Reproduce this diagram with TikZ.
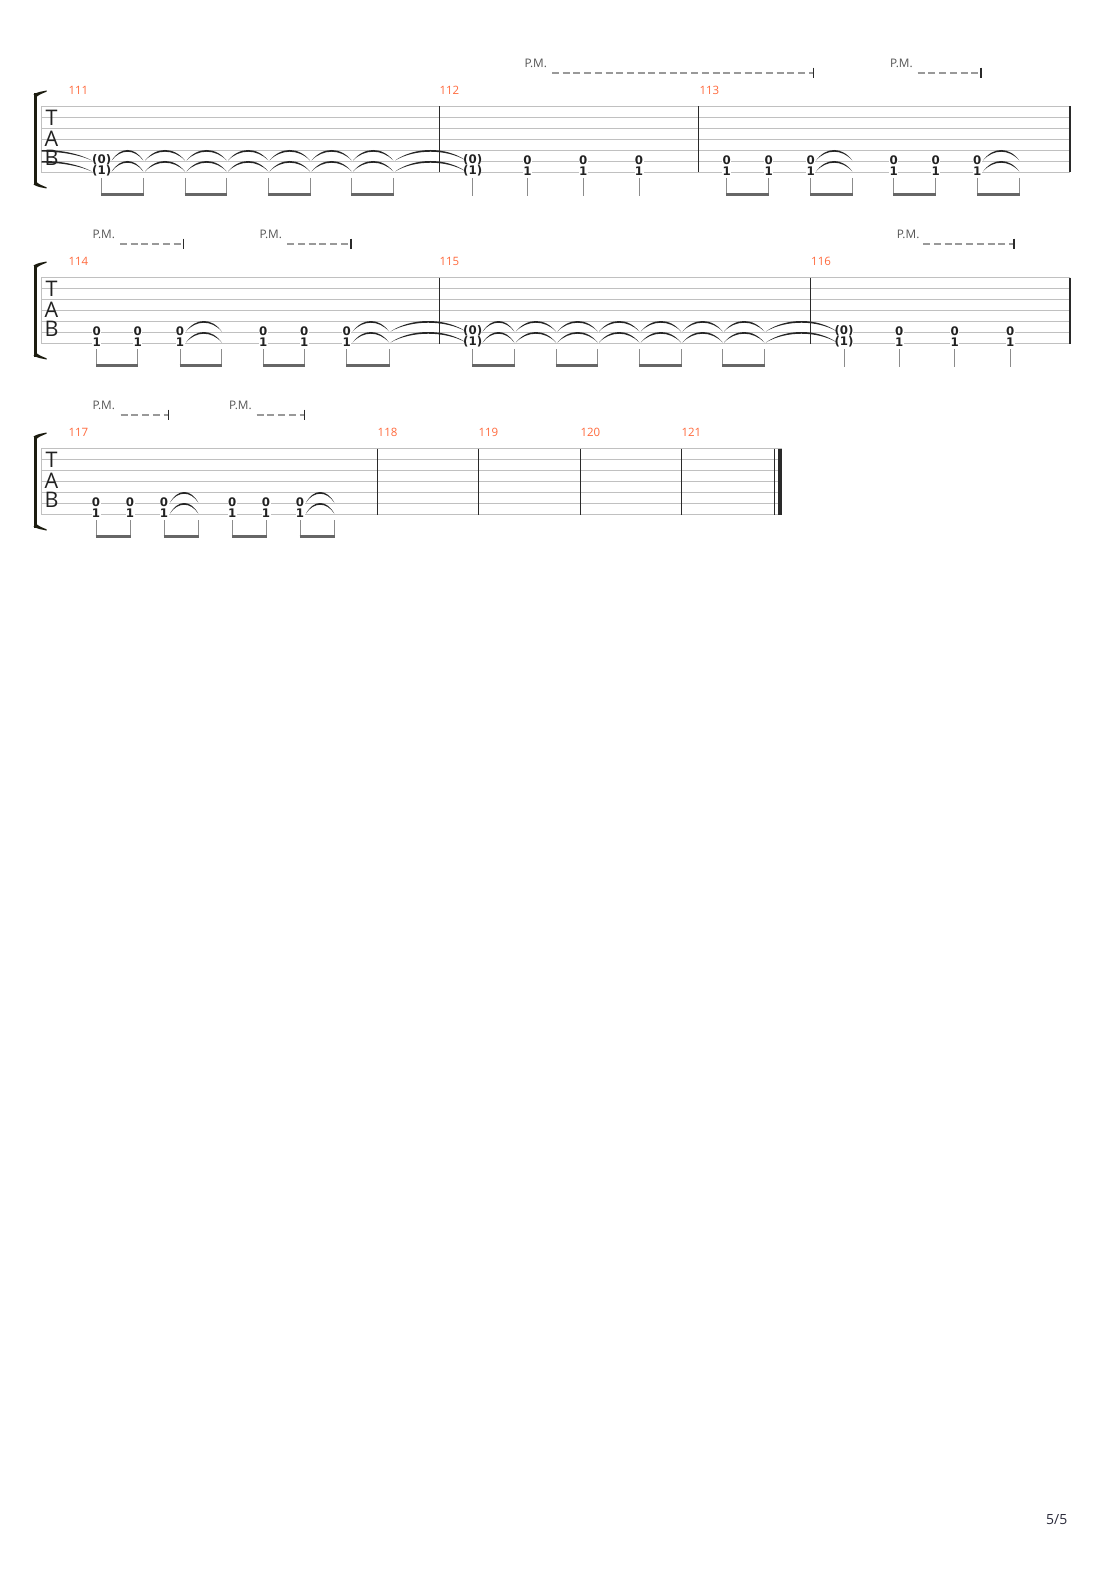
\documentclass[tikz,border=0pt]{standalone}
\usepackage{fontspec}
\setmainfont{Open Sans}
\newfontfamily\fretfont{DejaVu Sans}
\definecolor{staffgray}{HTML}{C0C0C0}
\definecolor{barcol}{HTML}{2A2A2A}
\definecolor{mnum}{HTML}{FF6A3D}
\definecolor{pmtxt}{HTML}{555555}
\definecolor{pmdashcol}{HTML}{999999}
\definecolor{stemcol}{HTML}{8C8C8C}
\definecolor{beamcol}{HTML}{666666}
\definecolor{tiecol}{HTML}{262626}
\definecolor{fretcol}{HTML}{222222}
\definecolor{brackcol}{HTML}{1C1C10}
\definecolor{pagecol}{HTML}{2B2B3B}
\tikzset{
 staffline/.style={draw=staffgray, line width=0.9pt},
 barline/.style={draw=barcol, line width=1.1pt},
 mnumber/.style={text=mnum, font=\fontsize{11.5}{11.5}\selectfont, inner sep=0pt, anchor=west},
 pmtext/.style={text=pmtxt, font=\fontsize{11.8}{11.8}\selectfont, inner sep=0pt, anchor=west},
 pmline/.style={draw=pmdashcol, line width=2pt, dash pattern=on 7pt off 3.7pt},
 pmtick/.style={draw=barcol, line width=1.1pt},
 fret/.style={text=fretcol, font=\fretfont\bfseries\fontsize{11.8}{11.8}\selectfont, inner sep=0pt},
 tablet/.style={text=fretcol, font=\fontsize{21.5}{21.5}\selectfont, inner sep=0pt, text height=15.3pt, text depth=0pt},
 stemline/.style={draw=stemcol, line width=1pt},
 beamline/.style={draw=beamcol, line width=2.6pt},
}
\newcommand\staffsys[2]{\foreach \k in {0,...,6}{\draw[staffline] (41,{#1+11*\k}) -- (#2,{#1+11*\k});}}
\newcommand\fretpair[6]{%
 \fill[white] ({#2-#6},{#3+53.6}) rectangle ({#2+#6},{#3+56.6});
 \fill[white] ({#2-#6},{#3+64.6}) rectangle ({#2+#6},{#3+67.6});
 \node[fret] (#1a) at (#2,{#3+53.5}) {#4};
 \node[fret] (#1b) at (#2,{#3+64.4}) {#5};}
\newcommand\stemat[3]{\draw[stemline] (#1,{#2+71.5}) -- (#1,{#2+#3});}
\newcommand\beamat[3]{\draw[beamline] ({#1-0.5},{#3+88}) -- ({#2+0.5},{#3+88});}
\newcommand\tiearc[3]{%
 \fill[tiecol] (#1,#3) .. controls ({#1+0.28*(#2-#1)},{#3-14}) and ({#2-0.28*(#2-#1)},{#3-14}) .. (#2,#3)
  .. controls ({#2-0.28*(#2-#1)},{#3-11.7}) and ({#1+0.28*(#2-#1)},{#3-11.7}) .. (#1,#3) -- cycle;}
\newcommand\tiepair[3]{\tiearc{#1}{#2}{#3+54}\tiearc{#1}{#2}{#3+65}}
\newcommand\brackat[1]{%
 \fill[brackcol] (33.5,{#1-13}) rectangle (36.5,{#1+79});
 \fill[brackcol] (33.5,{#1-12}) .. controls (37,{#1-14.5}) and (42,{#1-15}) .. (46.5,{#1-16})
   -- (46.5,{#1-14.8}) .. controls (42,{#1-13}) and (38.5,{#1-11.5}) .. (36.5,{#1-9.5}) -- cycle;
 \fill[brackcol] (33.5,{#1+78}) .. controls (37,{#1+80.5}) and (42,{#1+81}) .. (46.5,{#1+82})
   -- (46.5,{#1+80.8}) .. controls (42,{#1+79}) and (38.5,{#1+77.5}) .. (36.5,{#1+75.5}) -- cycle;}
\newcommand\tabletters[2]{%
 \node[tablet] (#2t) at (51.5,{#1+11.8}) {T};
 \node[tablet] (#2a) at (51.5,{#1+32.3}) {A};
 \node[tablet] (#2b) at (51.5,{#1+51.6}) {B};}
\newcommand\pmark[5]{%
 \node[pmtext] (#5) at (#1,{#4-43.2}) {P.M.};
 \draw[pmline] (#2,{#4-33.8}) -- (#3,{#4-33.8});
 \draw[pmtick] (#3,{#4-38.8}) -- (#3,{#4-28.5});}
\begin{document}
\begin{tikzpicture}[x=1pt,y=-1pt]
\fill[white] (0,0) rectangle (1110,1570);
\useasboundingbox (0,0) rectangle (1110,1570);

% ================= SYSTEM 1 =================
\def\T{106.5}
\staffsys{\T}{1070}
\draw[staffline] (41,\T) -- (41,{\T+66});
\foreach \b in {439.3,698.3,1070} {\draw[barline] (\b,\T) -- (\b,{\T+66});}
\brackat{\T}
\tabletters{\T}{s1}
\node[mnumber] (m111) at (68.3,{\T-16.5}) {111};
\node[mnumber] (m112) at (439.3,{\T-16.5}) {112};
\node[mnumber] (m113) at (699.3,{\T-16.5}) {113};
\pmark{524.3}{552}{813.5}{\T}{pm1a}
\pmark{890}{917.7}{981}{\T}{pm1b}
\foreach \x [count=\i] in {101.7,472.7} {\fretpair{s1p\i}{\x}{\T}{(0)}{(1)}{8.5}}
\foreach \x [count=\i] in {527.5,583.3,639,726.7,768.7,810.7,893.7,935.7,977.3} {\fretpair{s1n\i}{\x}{\T}{0}{1}{4.5}}
\foreach \x in {101.7,143.3,185,226.7,268.3,310,351.7,393.3,726.7,768.7,810.7,852.3,893.7,935.7,977.3,1019.3} {\stemat{\x}{\T}{88.5}}
\foreach \x in {472.7,527.5,583.3,639} {\stemat{\x}{\T}{89.2}}
\foreach \a/\b in {101.7/143.3,185/226.7,268.3/310,351.7/393.3,726.7/768.7,810.7/852.3,893.7/935.7,977.3/1019.3} {\beamat{\a}{\b}{\T}}
\foreach \a/\b in {111.7/143.3,145/185,186.5/226.7,228/268.3,269.5/310,311.5/351.7,353/393.3,395/466,816/852.3,983/1019.3} {\tiepair{\a}{\b}{\T}}
\begin{scope}
\clip (41.5,100) rectangle (100,180);
\tiepair{-4}{92}{\T}
\end{scope}

% ================= SYSTEM 2 =================
\def\T{277.5}
\staffsys{\T}{1070}
\draw[staffline] (41,\T) -- (41,{\T+66});
\foreach \b in {439.3,810.5,1070} {\draw[barline] (\b,\T) -- (\b,{\T+66});}
\brackat{\T}
\tabletters{\T}{s2}
\node[mnumber] (m114) at (68.3,{\T-16.5}) {114};
\node[mnumber] (m115) at (439.3,{\T-16.5}) {115};
\node[mnumber] (m116) at (811,{\T-16.5}) {116};
\pmark{92.3}{120}{183.5}{\T}{pm2a}
\pmark{259.3}{287.3}{351}{\T}{pm2b}
\pmark{896.7}{923.3}{1014}{\T}{pm2c}
\foreach \x [count=\i] in {472.7,844} {\fretpair{s2p\i}{\x}{\T}{(0)}{(1)}{8.5}}
\foreach \x [count=\i] in {96.7,137.7,180,263.3,304.3,346.7,899.3,954.7,1010.3} {\fretpair{s2n\i}{\x}{\T}{0}{1}{4.5}}
\foreach \x in {96.7,137.7,180,221.7,263.3,304.3,346.7,389,472.7,514.3,556,597.7,639.3,681,722.7,764.3} {\stemat{\x}{\T}{88.5}}
\foreach \x in {844,899.3,954.7,1010.3} {\stemat{\x}{\T}{89.2}}
\foreach \a/\b in {96.7/137.7,180/221.7,263.3/304.3,346.7/389,472.7/514.3,556/597.7,639.3/681,722.7/764.3} {\beamat{\a}{\b}{\T}}
\foreach \a/\b in {186/221.7,352.7/389,390.5/466,482.7/514.3,515.8/556,557.5/597.7,599/639.3,640.8/681,682.5/722.7,724/764.3,765.8/837} {\tiepair{\a}{\b}{\T}}

% ================= SYSTEM 3 =================
\def\T{448.5}
\staffsys{\T}{782}
\draw[staffline] (41,\T) -- (41,{\T+66});
\foreach \b in {377.5,478.3,580.3,681.3,774.7} {\draw[barline] (\b,\T) -- (\b,{\T+66});}
\fill[barcol] (778.3,\T) rectangle (782,{\T+66});
\brackat{\T}
\tabletters{\T}{s3}
\node[mnumber] (m117) at (68.3,{\T-16.5}) {117};
\node[mnumber] (m118) at (377.5,{\T-16.5}) {118};
\node[mnumber] (m119) at (478.3,{\T-16.5}) {119};
\node[mnumber] (m120) at (580.3,{\T-16.5}) {120};
\node[mnumber] (m121) at (681.3,{\T-16.5}) {121};
\pmark{92.3}{120.7}{168.3}{\T}{pm3a}
\pmark{229}{256.7}{304.3}{\T}{pm3b}
\foreach \x [count=\i] in {96,130,164,232.3,266,300} {\fretpair{s3n\i}{\x}{\T}{0}{1}{4.5}}
\foreach \x in {96,130,164,198.3,232.3,266,300,334.3} {\stemat{\x}{\T}{88.5}}
\foreach \a/\b in {96/130,164/198.3,232.3/266,300/334.3} {\beamat{\a}{\b}{\T}}
\foreach \a/\b in {170/198.3,306/334.3} {\tiepair{\a}{\b}{\T}}

% page number
\node[text=pagecol, font=\fontsize{14}{14}\selectfont, inner sep=0pt] (pagenum) at (1056.7,1520) {5/5};
\end{tikzpicture}
\end{document}
